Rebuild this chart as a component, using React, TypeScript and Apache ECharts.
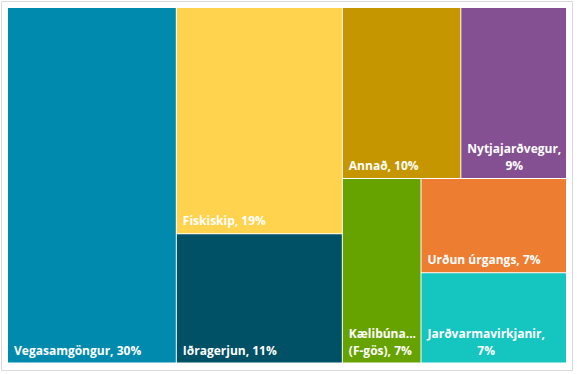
import React, { useEffect, useRef } from 'react';
import * as echarts from 'echarts';

const names = [
  'Vegasamgöngur',
  'Fiskiskip',
  'Iðragerjun',
  'Annað',
  'Nytjajarðvegur',
  'Kælibúnaður (F-gös)',
  'Urðun úrgangs',
  'Jarðvarmavirkjanir',
];
const values = [30.2, 18.9, 10.8, 10.2, 9.1, 7.3, 6.9, 6.6];
const colors = ['#008BAE', '#FFD34E', '#005066', '#C59600', '#845092', '#67A300', '#ED7D31', '#15C5C0'];
// how each label is wrapped in the reference: '' none, ',' after the comma, ' ' at the first space
const labelBreaks = ['', '', '', '', ',', ' ', '', ','];
// nesting of leaf indices that reproduces the reference's tiling
const tiling: any[] = [0, [[1, 2], [[3, 4], [5, [6, 7]]]]];

const FONT_FAMILY = '"Open Sans", sans-serif';
const FONT_SIZE = 12;

function measure(text: string): number {
  const ctx = document.createElement('canvas').getContext('2d');
  if (!ctx) return text.length * 7;
  ctx.font = `bold ${FONT_SIZE}px "Open Sans"`;
  return ctx.measureText(text).width;
}

function labelText(i: number): string {
  const pct = `${Math.round(values[i])}%`;
  const b = labelBreaks[i];
  if (b === ',') return `${names[i]},\n${pct}`;
  if (b === ' ') {
    const k = names[i].indexOf(' ');
    return `${names[i].slice(0, k)}\n${names[i].slice(k + 1)}, ${pct}`;
  }
  return `${names[i]}, ${pct}`;
}

function buildNode(t: any): any {
  if (typeof t === 'number') {
    const text = labelText(t);
    const label: any = { formatter: () => text };
    if (labelBreaks[t] === ',') {
      const w = Math.max(...text.split('\n').map(measure));
      label.align = 'center';
      label.padding = [5, 6, 4, 6];
      label.offset = [6 + w / 2, 0];
    }
    if (labelBreaks[t] === ' ') {
      label.overflow = 'truncate';
      label.ellipsis = '...';
      label.padding = [5, 1, 4, 6];
    }
    return { name: names[t], value: values[t], itemStyle: { color: colors[t] }, label };
  }
  return { name: '', children: t.map(buildNode) };
}

export default function App() {
  const ref = useRef<HTMLDivElement>(null);
  useEffect(() => {
    if (!ref.current) return;
    const chart = echarts.init(ref.current, undefined, { renderer: 'svg' });
    chart.setOption({
      animation: false,
      backgroundColor: '#fff',
      graphic: [
        {
          type: 'rect',
          silent: true,
          shape: { x: 1.5, y: 1.5, width: 571, height: 369 },
          style: { fill: 'none', stroke: '#D9D9D9', lineWidth: 1 },
        },
      ],
      series: [
        {
          type: 'treemap',
          left: 8,
          top: 8,
          width: 558,
          height: 354.5,
          sort: false,
          squareRatio: 1,
          roam: false,
          nodeClick: false,
          breadcrumb: { show: false },
          itemStyle: { gapWidth: 1, borderWidth: 0, borderColor: '#fff' },
          upperLabel: { show: false },
          label: {
            show: true,
            position: 'insideBottomLeft',
            distance: 0,
            padding: [5, 5, 4, 6],
            color: '#fff',
            fontFamily: FONT_FAMILY,
            fontWeight: 'bold',
            fontSize: FONT_SIZE,
            lineHeight: 17,
            overflow: 'none',
          },
          data: tiling.map(buildNode),
        },
      ],
    });
    return () => chart.dispose();
  }, []);
  return (
    <div
      ref={ref}
      style={{ position: 'fixed', left: 0, top: 0, width: 577, height: 374, background: '#fff' }}
    />
  );
}
